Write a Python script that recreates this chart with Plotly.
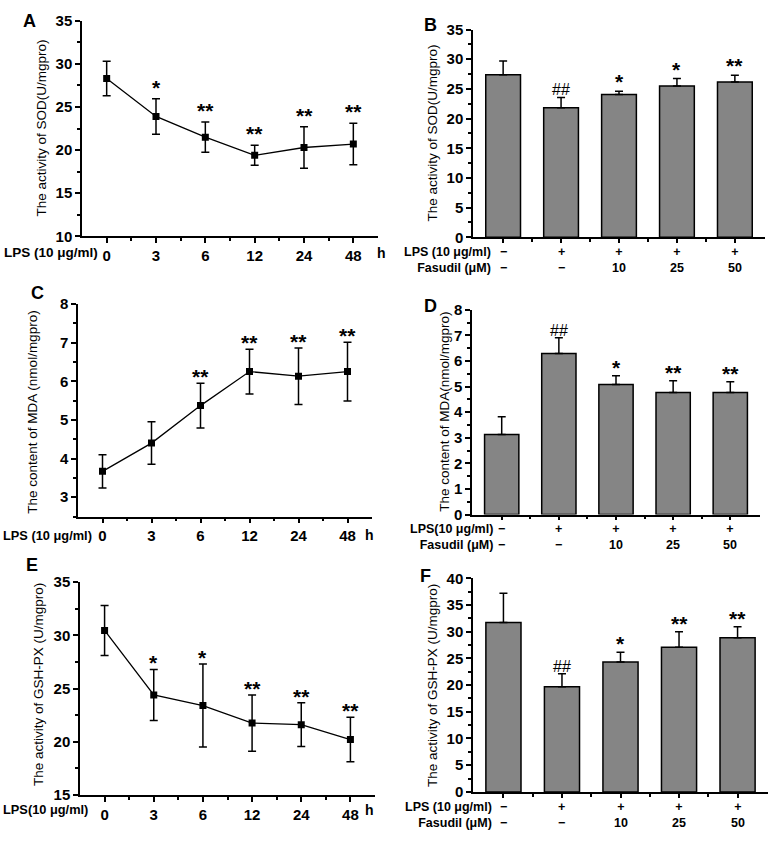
import plotly.graph_objs as go

W, H = 777, 843

# time-course panels (A, C, E)
time_labels = ["0", "3", "6", "12", "24", "48"]
sod_time = [28.3, 23.9, 21.5, 19.4, 20.3, 20.7]
sod_time_err = [2.0, 2.05, 1.75, 1.15, 2.4, 2.4]
sod_time_sig = ["", "*", "**", "**", "**", "**"]

mda_time = [3.67, 4.40, 5.37, 6.25, 6.13, 6.25]
mda_time_err = [0.43, 0.55, 0.58, 0.58, 0.73, 0.76]
mda_time_sig = ["", "", "**", "**", "**", "**"]

gsh_time = [30.46, 24.4, 23.4, 21.75, 21.6, 20.2]
gsh_time_err = [2.35, 2.4, 3.9, 2.65, 2.05, 2.1]
gsh_time_sig = ["", "*", "*", "**", "**", "**"]

# fasudil panels (B, D, F)
lps_row = ["\u2212", "+", "+", "+", "+"]
fasudil_row = ["\u2212", "\u2212", "10", "25", "50"]

sod_fas = [27.4, 21.85, 24.05, 25.5, 26.15]
sod_fas_err = [2.3, 1.7, 0.55, 1.25, 1.15]
sod_fas_sig = ["", "##", "*", "*", "**"]

mda_fas = [3.13, 6.29, 5.08, 4.77, 4.77]
mda_fas_err = [0.69, 0.62, 0.34, 0.46, 0.42]
mda_fas_sig = ["", "##", "*", "**", "**"]

gsh_fas = [31.7, 19.7, 24.3, 27.1, 28.85]
gsh_fas_err = [5.5, 2.4, 1.85, 2.9, 2.05]
gsh_fas_sig = ["", "##", "*", "**", "**"]

FONT = "Liberation Sans"


def px(x):
    return x / W


def py(y):
    return 1 - y / H


fig = go.Figure()
annotations = []


def text(x, y, s, size=13, bold=True, xanchor="center", angle=0, align="center"):
    annotations.append(dict(
        x=x, y=y, xref="paper", yref="paper", text=s, showarrow=False,
        xanchor=xanchor, yanchor="middle", textangle=angle, align=align,
        font=dict(family=FONT, size=size, color="black",
                  weight="bold" if bold else "normal")))


def axis_common():
    return dict(showline=True, linewidth=1.5, linecolor="black", showgrid=False,
                zeroline=False, ticks="outside", ticklen=5, tickwidth=1.5,
                tickcolor="black",
                tickfont=dict(family=FONT, size=15, color="black", weight="bold"))


def add_sig(n, vals, errs, sigs, shift):
    for i in range(len(vals)):
        if not sigs[i]:
            continue
        is_hash = sigs[i].startswith("#")
        annotations.append(dict(
            x=i, y=vals[i] + errs[i], xref="x%d" % n, yref="y%d" % n,
            text=sigs[i], showarrow=False, yanchor="bottom",
            yshift=shift + (2 if is_hash else 0),
            font=dict(family=FONT, size=16 if is_hash else 21, color="black",
                      weight="normal" if is_hash else "bold")))


def line_panel(n, vals, errs, sigs, xdom, ydom, yrange, dtick, minor, shift):
    fig.add_trace(go.Scatter(
        x=list(range(len(vals))), y=vals, mode="lines+markers",
        xaxis="x%d" % n, yaxis="y%d" % n,
        line=dict(color="black", width=1.3),
        marker=dict(symbol="square", size=7, color="black"),
        error_y=dict(type="data", array=errs, color="black", thickness=1.5, width=4),
        showlegend=False))
    xa = axis_common()
    xa.update(domain=[px(xdom[0]), px(xdom[1])], range=[-0.5, 5.5],
              tickmode="array", tickvals=list(range(6)), ticktext=time_labels,
              anchor="y%d" % n,
              minor=dict(tickmode="array", tickvals=[i + 0.5 for i in range(5)],
                         ticks="outside", ticklen=3, tickwidth=1.5, tickcolor="black"))
    ya = axis_common()
    ya.update(domain=[py(ydom[1]), py(ydom[0])], range=yrange, dtick=dtick,
              tick0=0, anchor="x%d" % n,
              minor=dict(dtick=minor, tick0=0, ticks="outside", ticklen=3,
                         tickwidth=1.5, tickcolor="black"))
    fig.update_layout(**{"xaxis%d" % n: xa, "yaxis%d" % n: ya})
    add_sig(n, vals, errs, sigs, shift)


def bar_panel(n, vals, errs, sigs, xdom, ydom, yrange, dtick, minor, shift):
    fig.add_trace(go.Bar(
        x=list(range(len(vals))), y=vals, width=0.6,
        xaxis="x%d" % n, yaxis="y%d" % n,
        marker=dict(color="#858585", line=dict(color="black", width=1.5)),
        error_y=dict(type="data", symmetric=False, array=errs,
                     arrayminus=[0] * len(errs), color="black", thickness=1.5, width=4),
        showlegend=False))
    xa = axis_common()
    xa.update(domain=[px(xdom[0]), px(xdom[1])], range=[-0.52, 4.52],
              tickmode="array", tickvals=list(range(5)), showticklabels=False,
              anchor="y%d" % n, ticklen=4,
              minor=dict(tickmode="array", tickvals=[i + 0.5 for i in range(4)],
                         ticks="outside", ticklen=3, tickwidth=1.5, tickcolor="black"))
    ya = axis_common()
    ya.update(domain=[py(ydom[1]), py(ydom[0])], range=yrange, dtick=dtick,
              tick0=0, anchor="x%d" % n,
              minor=dict(dtick=minor, tick0=0, ticks="outside", ticklen=3,
                         tickwidth=1.5, tickcolor="black"))
    fig.update_layout(**{"xaxis%d" % n: xa, "yaxis%d" % n: ya})
    add_sig(n, vals, errs, sigs, shift)


# A
line_panel(1, sod_time, sod_time_err, sod_time_sig, (82, 378), (12, 232), [10, 35], 5, 2.5, -2)
# B
bar_panel(2, sod_fas, sod_fas_err, sod_fas_sig, (473, 765), (21, 233), [0, 35], 5, 2.5, -4)
# C
line_panel(3, mda_time, mda_time_err, mda_time_sig, (78, 372), (301, 518), [2.5, 8], 1, 0.5, -7)
# D
bar_panel(4, mda_fas, mda_fas_err, mda_fas_sig, (472, 760), (307, 516), [0, 8], 1, 0.5, -5)
# E
line_panel(5, gsh_time, gsh_time_err, gsh_time_sig, (80, 375), (585, 802), [15, 35], 5, 2.5, -7)
# F
bar_panel(6, gsh_fas, gsh_fas_err, gsh_fas_sig, (473, 768), (581, 799), [0, 40], 5, 2.5, -5)

# panel letters
for letter, (lx, ly) in zip("ABCDEF", [(29, 12), (430, 16), (37, 290),
                                        (430, 303), (32, 567), (425, 579)]):
    text(px(lx), py(ly), letter, size=18)

# y titles
ytitles = [
    ("The activity of SOD(U/mgpro)", 42, 122),
    ("The activity of SOD(U/mgpro)", 432, 127),
    ("The content of MDA (nmol/mgpro)", 33, 412),
    ("The content of MDA(nmol/mgpro)", 445, 411),
    ("The activity of GSH-PX (U/mgpro)", 38, 690),
    ("The activity of GSH-PX (U/mgpro)", 432, 691),
]
for s, tx, ty in ytitles:
    text(px(tx), py(ty), s, size=13.5, bold=False, angle=-90)

# row labels of time-course panels
for s, rx, ry, fs in [("LPS (10 \u03bcg/ml)", 100, 249, 13.5),
                      ("LPS (10 \u03bcg/ml)", 94, 537, 12.8),
                      ("LPS(10 \u03bcg/ml)", 90, 817, 12.8)]:
    text(px(rx), py(ry), s, size=fs, xanchor="right")
for hx, hy in [(381, 249), (369, 537), (369, 817)]:
    text(px(hx), py(hy), "h", size=14)

# treatment rows of bar panels (two text lines per column)
bar_rows = [
    (2, "LPS (10 \u03bcg/ml)", 493, 256),
    (4, "LPS(10 \u03bcg/ml)", 495, 539),
    (6, "LPS (10 \u03bcg/ml)", 494, 823),
]
for n, lab, lx, cy in bar_rows:
    text(px(lx), py(cy), lab + "<br>Fasudil (\u03bcM)", size=12.5, xanchor="right",
         align="right")
    for i in range(5):
        annotations.append(dict(x=i, y=py(cy), xref="x%d" % n, yref="paper",
                                text=lps_row[i] + "<br>" + fasudil_row[i],
                                showarrow=False, yanchor="middle",
                                font=dict(family=FONT, size=12.5, color="black",
                                          weight="bold")))

fig.update_layout(width=W, height=H, margin=dict(l=0, r=0, t=0, b=0),
                  paper_bgcolor="white", plot_bgcolor="white",
                  annotations=annotations, font=dict(family=FONT, color="black"))

# drop the default page margin so the 777x843 figure fills the window exactly
fig.write_html("out.html", config={"displayModeBar": False},
               post_script="document.body.style.margin='0';")
